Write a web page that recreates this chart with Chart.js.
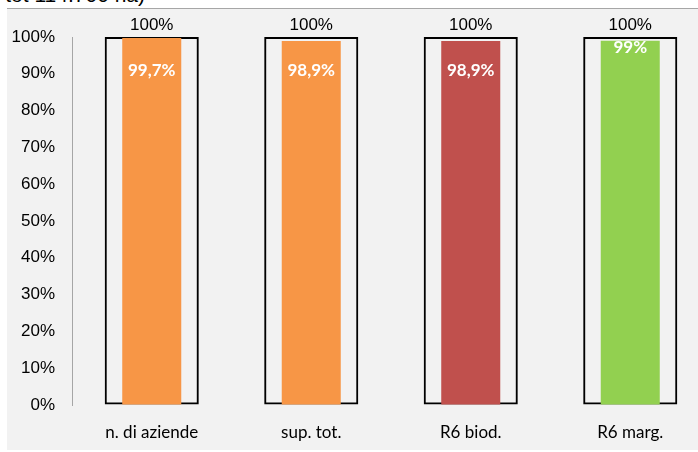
<!DOCTYPE html>
<html>
<head>
<meta charset="utf-8">
<script src="https://cdn.jsdelivr.net/npm/chart.js@4"></script>
<style>
  html, body { margin: 0; padding: 0; background: #fff; overflow: hidden; }
  #wrap { position: relative; width: 698px; height: 452px; overflow: hidden; }
  #sfondo { position: absolute; left: 7px; top: 8px; width: 691px; height: 441px; background: #f2f2f2; border-top: 1px solid #a6a6a6; }
  #titolo { position: absolute; right: 553px; top: -17px; font: 21px "Liberation Sans", Arial, sans-serif; color: #000; white-space: nowrap; }
  #grafico { position: absolute; left: 0; top: 0; }
</style>
</head>
<body>
<div id="wrap">
  <div id="sfondo"></div>
  <div id="titolo">(sup. tot 114.700 ha)</div>
  <canvas id="grafico" width="712" height="452" style="width:712px;height:452px"></canvas>
</div>
<script>
const categorie = ['n. di aziende', 'sup. tot.', 'R6 biod.', 'R6 marg.'];
const totale = [1, 1, 1, 1];
const valori = [0.997, 0.989, 0.989, 0.99];
const coloriBarre = ['#f79646', '#f79646', '#c0504d', '#92d050'];

const fmtPerc = v => String(Math.round(v * 1000) / 10).replace('.', ',') + '%';

// etichette dati come in Excel
const etichette = {
    id: 'etichette',
    afterDatasetsDraw(chart) {
        const ctx = chart.ctx;
        ctx.save();
        ctx.textAlign = 'center';
        ctx.textBaseline = 'middle';

        ctx.font = '17px "Liberation Sans", Arial, sans-serif';
        ctx.fillStyle = '#000';
        chart.getDatasetMeta(0).data.forEach((bar, i) => {
            ctx.fillText(fmtPerc(totale[i]), bar.x, bar.y - 12);
        });

        const scarto = [32, 29, 29, 7]; // posizione interna delle etichette
        ctx.font = 'bold 17px Lato, "Open Sans", sans-serif';
        ctx.fillStyle = '#fff';
        chart.getDatasetMeta(1).data.forEach((bar, i) => {
            ctx.fillText(fmtPerc(valori[i]), bar.x, bar.y + scarto[i]);
        });
        ctx.restore();
    }
};

new Chart(document.getElementById('grafico'), {
    type: 'bar',
    data: {
        labels: categorie,
        datasets: [
            {
                label: 'totale',
                data: totale,
                backgroundColor: 'transparent',
                borderColor: '#000',
                borderWidth: 2,
                borderSkipped: false,
                grouped: false,
                categoryPercentage: 1,
                barPercentage: 0.59,
                order: 2,
                clip: false
            },
            {
                label: 'valore',
                data: valori,
                backgroundColor: coloriBarre,
                borderWidth: 0,
                grouped: false,
                categoryPercentage: 1,
                barPercentage: 0.37,
                order: 1,
                clip: false
            }
        ]
    },
    options: {
        responsive: false,
        animation: false,
        layout: { padding: { top: 37, right: 2, left: 0, bottom: 0 } },
        plugins: {
            legend: { display: false },
            tooltip: { enabled: false }
        },
        scales: {
            x: {
                grid: { display: false, drawTicks: false },
                border: { display: false },
                ticks: {
                    color: '#000',
                    padding: 17,
                    font: { family: 'Lato, "Open Sans", sans-serif', size: 17 }
                },
                afterFit(scale) { scale.height = 47; }
            },
            y: {
                min: 0,
                max: 1,
                grid: { display: true, color: 'transparent', drawTicks: false },
                border: { display: true, color: '#a6a6a6', width: 1 },
                ticks: {
                    stepSize: 0.1,
                    color: '#000',
                    padding: 17,
                    font: { family: '"Liberation Sans", Arial, sans-serif', size: 17 },
                    callback: v => Math.round(v * 100) + '%'
                },
                afterFit(scale) { scale.width = 72; }
            }
        }
    },
    plugins: [etichette]
});
</script>
</body>
</html>
